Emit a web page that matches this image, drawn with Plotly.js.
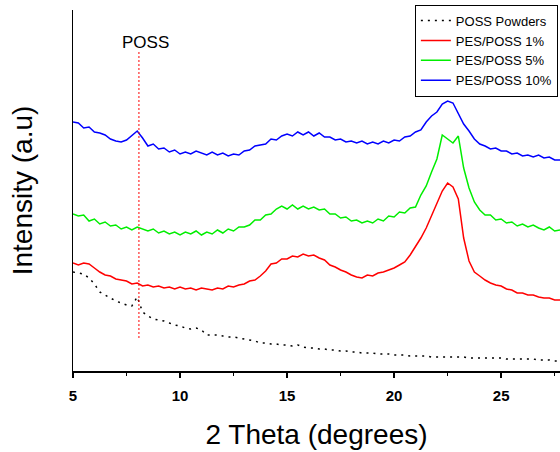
<!DOCTYPE html>
<html>
<head>
<meta charset="utf-8">
<script src="https://cdn.plot.ly/plotly-3.0.1.min.js"></script>
<style>html,body{margin:0;padding:0;background:#fff;}#chart{width:560px;height:452px;}</style>
</head>
<body>
<div id="chart"></div>
<script>
// 2 Theta sample positions (degrees)
const twoTheta = [5.00,5.25,5.50,5.75,6.00,6.25,6.50,6.75,7.00,7.25,7.50,7.75,8.00,8.25,8.50,8.75,9.00,9.25,9.50,9.75,
  10.00,10.25,10.50,10.75,11.00,11.25,11.50,11.75,12.00,12.25,12.50,12.75,13.00,13.25,13.50,13.75,14.00,14.25,14.50,14.75,
  15.00,15.25,15.50,15.75,16.00,16.25,16.50,16.75,17.00,17.25,17.50,17.75,18.00,18.25,18.50,18.75,19.00,19.25,19.50,19.75,
  20.00,20.25,20.50,20.75,21.00,21.25,21.50,21.75,22.00,22.25,22.50,22.75,23.00,23.25,23.50,23.75,24.00,24.25,24.50,24.75,
  25.00,25.25,25.50,25.75,26.00,26.25,26.50,26.75,27.00,27.25,27.50,27.75];

// Intensities (a.u., stacked as in the figure)
const possPowders = [99,98,97,93,87,79,76,73,70,68,66,65,74,59,55,52,51,50,48,46,
  45,43,42,43,41,36,36,36,35,34,34,33,32,31,30,28,28,27,27,26,
  26,25,26,24,23,23,22,22,21,21,20,20,19,19,18,18,18,17,17,17,
  16,16,16,15,15,15,15,14,14,14,14,14,14,14,13,13,13,13,13,13,
  13,12,12,12,12,12,12,11,11,11,10,10];

const pes1 = [108,106,108,107,103,99,96,95,92,91,90,87,88,85,86,84,85,83,84,82,
  84,82,83,81,83,82,81,83,82,85,84,86,87,90,91,95,100,107,108,112,
  112,115,114,117,115,116,113,111,106,104,101,99,96,94,93,96,95,98,99,101,
  103,106,109,116,124,133,143,155,167,180,188,184,172,133,110,99,95,91,88,86,
  85,82,81,78,78,76,76,74,73,73,71,71];

const pes5 = [157,155,156,150,152,147,149,145,146,142,144,141,144,142,140,142,138,140,137,139,
  136,139,137,140,136,139,137,141,138,142,140,144,144,146,151,151,156,157,162,165,
  162,166,162,165,162,164,161,162,157,157,153,154,150,151,148,150,148,152,150,155,
  154,159,158,163,164,176,185,199,212,236,232,228,235,203,183,169,161,156,156,151,
  152,148,149,145,147,144,146,143,141,144,140,141];

const pes10 = [249,248,243,244,239,238,236,232,230,229,231,236,240,233,225,227,222,223,219,221,
  217,219,217,220,218,216,219,216,218,215,217,216,220,221,225,226,227,232,231,235,
  237,235,239,236,239,235,238,234,234,231,232,229,230,228,230,227,229,227,230,228,
  231,230,234,235,239,241,249,255,259,267,270,268,258,247,240,232,227,225,222,223,
  220,220,217,218,215,216,214,216,213,214,211,211];

const seriesNames = ["POSS Powders", "PES/POSS 1%", "PES/POSS 5%", "PES/POSS 10%"];
const possPeak = 8.08;          // POSS reflection marker (degrees)
const possMarkerRange = [33, 319];
const xTicks = [5, 10, 15, 20, 25];

const FONT = "Liberation Sans, Arial, sans-serif";

const traces = [
  {x: twoTheta, y: possPowders, name: seriesNames[0], mode: "lines",
   line: {color: "#000000", width: 1.5, dash: "2px,5px"}},
  {x: twoTheta, y: pes1, name: seriesNames[1], mode: "lines",
   line: {color: "#ff0000", width: 1.5}},
  {x: twoTheta, y: pes5, name: seriesNames[2], mode: "lines",
   line: {color: "#00ee00", width: 1.5}},
  {x: twoTheta, y: pes10, name: seriesNames[3], mode: "lines",
   line: {color: "#0000ff", width: 1.5}}
];

const layout = {
  width: 560, height: 452,
  margin: {l: 73, r: 0, t: 10, b: 81, autoexpand: false},
  paper_bgcolor: "#ffffff", plot_bgcolor: "#ffffff",
  font: {family: FONT, color: "#000"},
  showlegend: true,
  legend: {x: 0.702, y: 1.015, xanchor: "left", yanchor: "top",
           bgcolor: "#ffffff", bordercolor: "#000", borderwidth: 1,
           font: {family: FONT, size: 13, color: "#000"}, tracegroupgap: 0},
  xaxis: {
    range: [5, 27.75], showgrid: false, zeroline: false,
    showline: true, linecolor: "#000", linewidth: 1.5,
    ticks: "outside", ticklen: 5, tickwidth: 1.5, tickcolor: "#000",
    tickvals: xTicks, ticklabelstandoff: 5,
    tickfont: {family: FONT, size: 15, weight: "bold", color: "#000"},
    minor: {tickvals: [7.5, 12.5, 17.5, 22.5, 27.5], ticks: "outside", ticklen: 3, tickwidth: 1.5, tickcolor: "#000"},
    title: {text: "2 Theta (degrees)", font: {family: FONT, size: 28, color: "#000"}, standoff: 22}
  },
  yaxis: {
    range: [0, 361], showgrid: false, zeroline: false,
    showline: true, linecolor: "#000", linewidth: 1.5,
    ticks: "", showticklabels: false,
    title: {text: "Intensity (a.u)", font: {family: FONT, size: 28, color: "#000"}, standoff: 30}
  },
  shapes: [
    {type: "line", xref: "x", yref: "y", x0: possPeak, x1: possPeak,
     y0: possMarkerRange[0], y1: possMarkerRange[1],
     line: {color: "#ff0000", width: 1, dash: "2px,2px"}}
  ],
  annotations: [
    {x: possPeak, y: possMarkerRange[1] + 10, xref: "x", yref: "y", text: "POSS",
     showarrow: false, xanchor: "center", yanchor: "middle", xshift: 7,
     font: {family: FONT, size: 17, color: "#000"}}
  ]
};

Plotly.newPlot("chart", traces, layout, {displayModeBar: false, staticPlot: true});
</script>
</body>
</html>
